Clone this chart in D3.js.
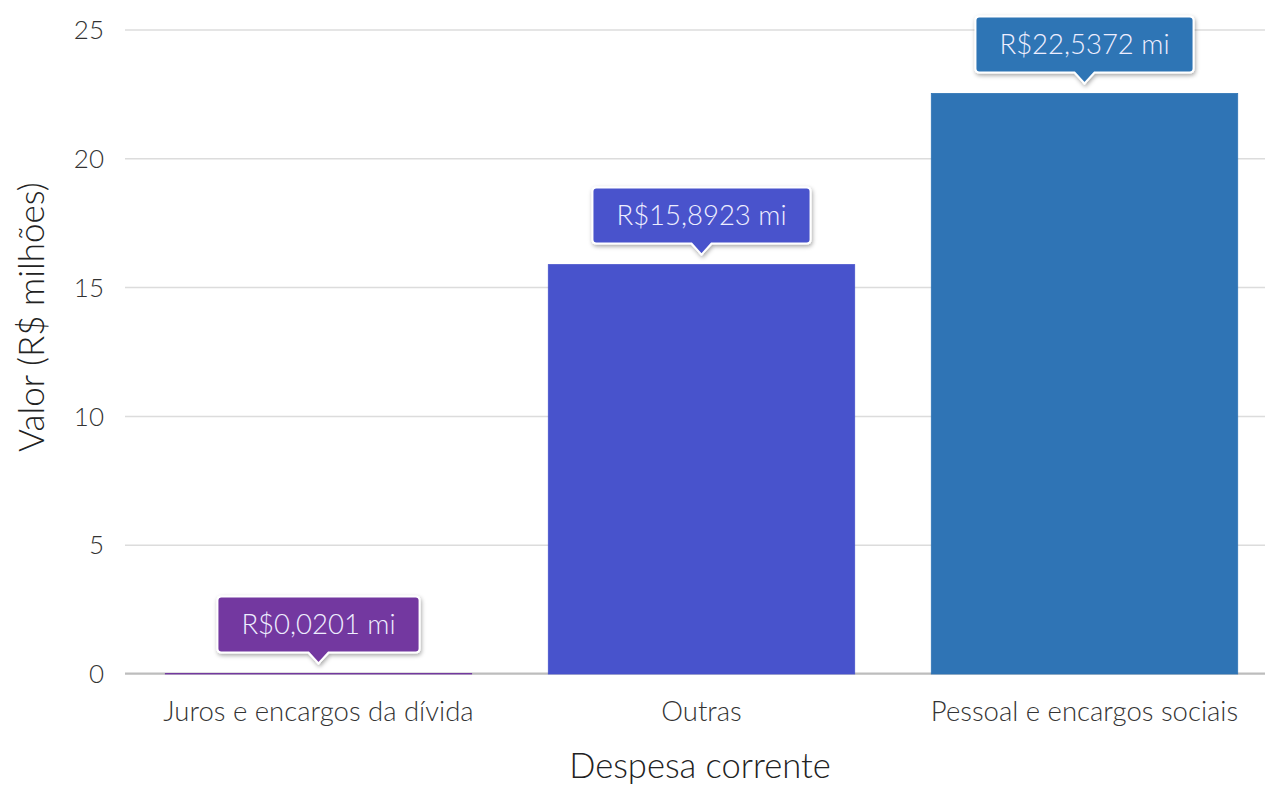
<!DOCTYPE html>
<html><head><meta charset="utf-8">
<script src="https://cdn.jsdelivr.net/npm/d3@7"></script>
<style>
body{margin:0;background:#fff;}
text{font-family:"Lato Light",Lato,"Open Sans",sans-serif;font-weight:300;}
</style></head>
<body><svg id="c" width="1265" height="787"></svg>
<script>
const categories = ["Juros e encargos da dívida","Outras","Pessoal e encargos sociais"];
const values = [0.0201, 15.8923, 22.5372];
const labels = ["R$0,0201 mi","R$15,8923 mi","R$22,5372 mi"];
const colors = ["#7339A0","#4853CC","#2F74B5"];
const yTicks = [0,5,10,15,20,25];

(function(){
const svg = d3.select("#c");
const defs = svg.append("defs");
const f = defs.append("filter").attr("id","sh").attr("x","-20%").attr("y","-30%").attr("width","140%").attr("height","170%");
f.append("feDropShadow").attr("dx",1).attr("dy",2).attr("stdDeviation",2).attr("flood-color","#000").attr("flood-opacity",0.35);

const pL = 125, pR = 1265, pT = 30, pB = 674;
const x = d3.scaleBand().domain(categories).range([127,1276]).paddingInner(0.2).paddingOuter(0.1);
const y = d3.scaleLinear().domain([0,25]).range([pB, pT]);

svg.append("g").selectAll("line").data(yTicks.filter(d=>d>0)).join("line")
  .attr("x1",pL).attr("x2",pR).attr("y1",d=>y(d)).attr("y2",d=>y(d))
  .attr("stroke","#dcdcdc").attr("stroke-width",1.5);

svg.append("line").attr("x1",pL).attr("x2",pR).attr("y1",y(0)-0.3).attr("y2",y(0)-0.3)
  .attr("stroke","#bdbdbd").attr("stroke-width",2.2);

svg.append("g").selectAll("text").data(yTicks).join("text")
  .attr("x",104).attr("y",d=>y(d)).attr("dy","0.35em").attr("text-anchor","end")
  .attr("font-size",26).attr("fill","#333").text(d=>d);

svg.append("g").selectAll("rect").data(values).join("rect")
  .attr("x",(d,i)=>x(categories[i])).attr("width",x.bandwidth())
  .attr("y",d=>y(d)).attr("height",d=>y(0)-y(d))
  .attr("fill",(d,i)=>colors[i]).attr("stroke",(d,i)=>colors[i]).attr("stroke-width",0.8);

svg.append("g").selectAll("text").data(categories).join("text")
  .attr("x",d=>x(d)+x.bandwidth()/2).attr("y",711).attr("dy","0.35em").attr("text-anchor","middle")
  .attr("font-size",27.5).attr("fill","#333").text(d=>d);

svg.append("text").attr("x",700).attr("y",778).attr("text-anchor","middle")
  .attr("font-size",34.5).attr("fill","#222").text("Despesa corrente");
svg.append("text").attr("transform","translate(32,317) rotate(-90)").attr("dy","0.35em").attr("text-anchor","middle")
  .attr("font-size",35).attr("fill","#222").text("Valor (R$ milhões)");

const lg = svg.append("g");
values.forEach((v,i)=>{
  const cx = x(categories[i]) + x.bandwidth()/2;
  const tip = y(v) - 10;
  const bh = 56, pw = 10, ph = 11;
  const g = lg.append("g");
  const t = g.append("text").attr("x",cx).attr("y",tip-ph-bh/2).attr("dy","0.35em").attr("text-anchor","middle")
    .attr("font-size",27.5).attr("fill","#eef").text(labels[i]);
  const w = t.node().getComputedTextLength() + 48;
  const x0 = cx - w/2, x1 = cx + w/2, yb = tip - ph, yt = yb - bh, r = 4;
  const p = `M${x0+r},${yt} H${x1-r} Q${x1},${yt} ${x1},${yt+r} V${yb-r} Q${x1},${yb} ${x1-r},${yb} H${cx+pw} L${cx},${tip} L${cx-pw},${yb} H${x0+r} Q${x0},${yb} ${x0},${yb-r} V${yt+r} Q${x0},${yt} ${x0+r},${yt} Z`;
  g.insert("path","text").attr("d",p).attr("fill",colors[i]).attr("stroke","#fff").attr("stroke-width",2).attr("filter","url(#sh)");
});
})();
</script></body></html>
